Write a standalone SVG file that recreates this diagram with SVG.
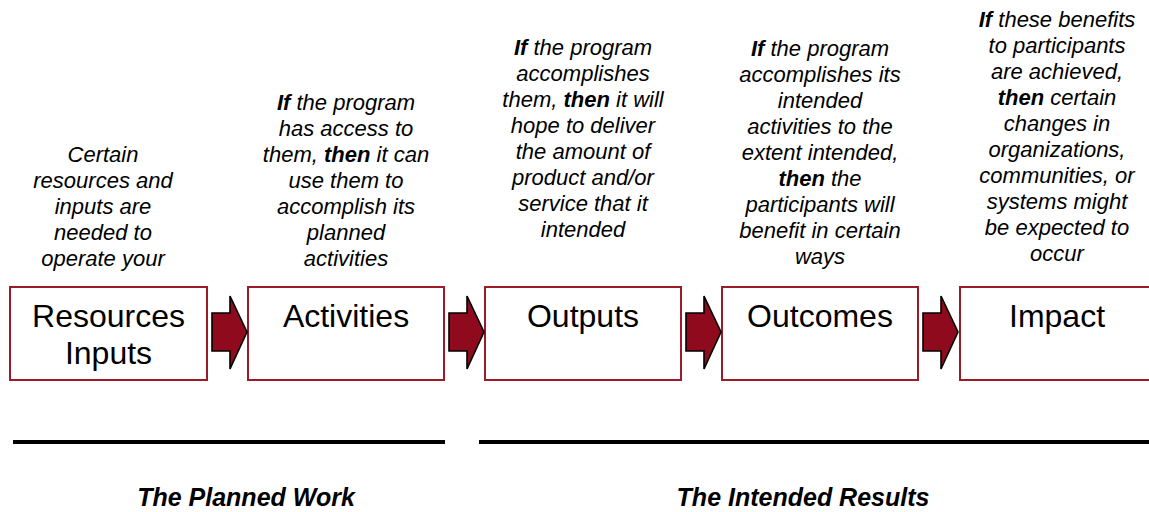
<svg xmlns="http://www.w3.org/2000/svg" width="1149" height="512" viewBox="0 0 1149 512">
<defs>
<style>
.box{fill:#ffffff;stroke:#9b1c28;stroke-width:2}
.lbl{font-family:"Liberation Sans",Arial,sans-serif;font-size:32px;fill:#000;text-anchor:middle}
.desc{font-family:"Liberation Sans",Arial,sans-serif;font-size:22px;font-style:italic;fill:#000;text-anchor:middle}
.b{font-weight:bold}
.arrow{fill:#8e0a1c;stroke:#000;stroke-width:1.6;stroke-linejoin:miter}
.rule{stroke:#000;stroke-width:4}
.title{font-family:"Liberation Sans",Arial,sans-serif;font-size:25px;font-style:italic;font-weight:bold;fill:#000;text-anchor:middle}
</style>
<polygon id="arr" points="0,-19 18,-19 18,-36 35,0 18,37 18,19 0,19"/>
</defs>
<rect width="1149" height="512" fill="#ffffff"/>

<g id="node-resources">
<rect class="box" x="10" y="287" width="197" height="93"/>
<text class="lbl" x="108.5" y="327">Resources</text>
<text class="lbl" x="108.5" y="364">Inputs</text>
<text class="desc" x="103"><tspan x="103" y="162">Certain</tspan><tspan x="103" y="188">resources and</tspan><tspan x="103" y="214">inputs are</tspan><tspan x="103" y="240">needed to</tspan><tspan x="103" y="266">operate your</tspan></text>
</g>

<g id="node-activities">
<rect class="box" x="248" y="287" width="196" height="93"/>
<text class="lbl" x="346" y="327">Activities</text>
<text class="desc"><tspan x="346" y="110"><tspan class="b">If</tspan> the program</tspan><tspan x="346" y="136">has access to</tspan><tspan x="346" y="162">them, <tspan class="b">then</tspan> it can</tspan><tspan x="346" y="188">use them to</tspan><tspan x="346" y="214">accomplish its</tspan><tspan x="346" y="240">planned</tspan><tspan x="346" y="266">activities</tspan></text>
</g>

<g id="node-outputs">
<rect class="box" x="485" y="287" width="196" height="93"/>
<text class="lbl" x="583" y="327">Outputs</text>
<text class="desc"><tspan x="583" y="55"><tspan class="b">If</tspan> the program</tspan><tspan x="583" y="81">accomplishes</tspan><tspan x="583" y="107">them, <tspan class="b">then</tspan> it will</tspan><tspan x="583" y="133">hope to deliver</tspan><tspan x="583" y="159">the amount of</tspan><tspan x="583" y="185">product and/or</tspan><tspan x="583" y="211">service that it</tspan><tspan x="583" y="237">intended</tspan></text>
</g>

<g id="node-outcomes">
<rect class="box" x="722" y="287" width="196" height="93"/>
<text class="lbl" x="820" y="327">Outcomes</text>
<text class="desc"><tspan x="820" y="56"><tspan class="b">If</tspan> the program</tspan><tspan x="820" y="82">accomplishes its</tspan><tspan x="820" y="108">intended</tspan><tspan x="820" y="134">activities to the</tspan><tspan x="820" y="160">extent intended,</tspan><tspan x="820" y="186"><tspan class="b">then</tspan> the</tspan><tspan x="820" y="212">participants will</tspan><tspan x="820" y="238">benefit in certain</tspan><tspan x="820" y="264">ways</tspan></text>
</g>

<g id="node-impact">
<rect class="box" x="960" y="287" width="200" height="93"/>
<text class="lbl" x="1057" y="327">Impact</text>
<text class="desc"><tspan x="1057" y="27"><tspan class="b">If</tspan> these benefits</tspan><tspan x="1057" y="53">to participants</tspan><tspan x="1057" y="79">are achieved,</tspan><tspan x="1057" y="105"><tspan class="b">then</tspan> certain</tspan><tspan x="1057" y="131">changes in</tspan><tspan x="1057" y="157">organizations,</tspan><tspan x="1057" y="183">communities, or</tspan><tspan x="1057" y="209">systems might</tspan><tspan x="1057" y="235">be expected to</tspan><tspan x="1057" y="261">occur</tspan></text>
</g>

<g id="connectors">
<use href="#arr" class="arrow" x="212" y="332"/>
<use href="#arr" class="arrow" x="449" y="332"/>
<use href="#arr" class="arrow" x="686" y="332"/>
<use href="#arr" class="arrow" x="923" y="332"/>
</g>

<g id="group-planned">
<line class="rule" x1="13" y1="442" x2="445" y2="442"/>
<text class="title" x="246" y="506">The Planned Work</text>
</g>
<g id="group-results">
<line class="rule" x1="479" y1="442" x2="1149" y2="442"/>
<text class="title" x="803" y="506">The Intended Results</text>
</g>
</svg>
